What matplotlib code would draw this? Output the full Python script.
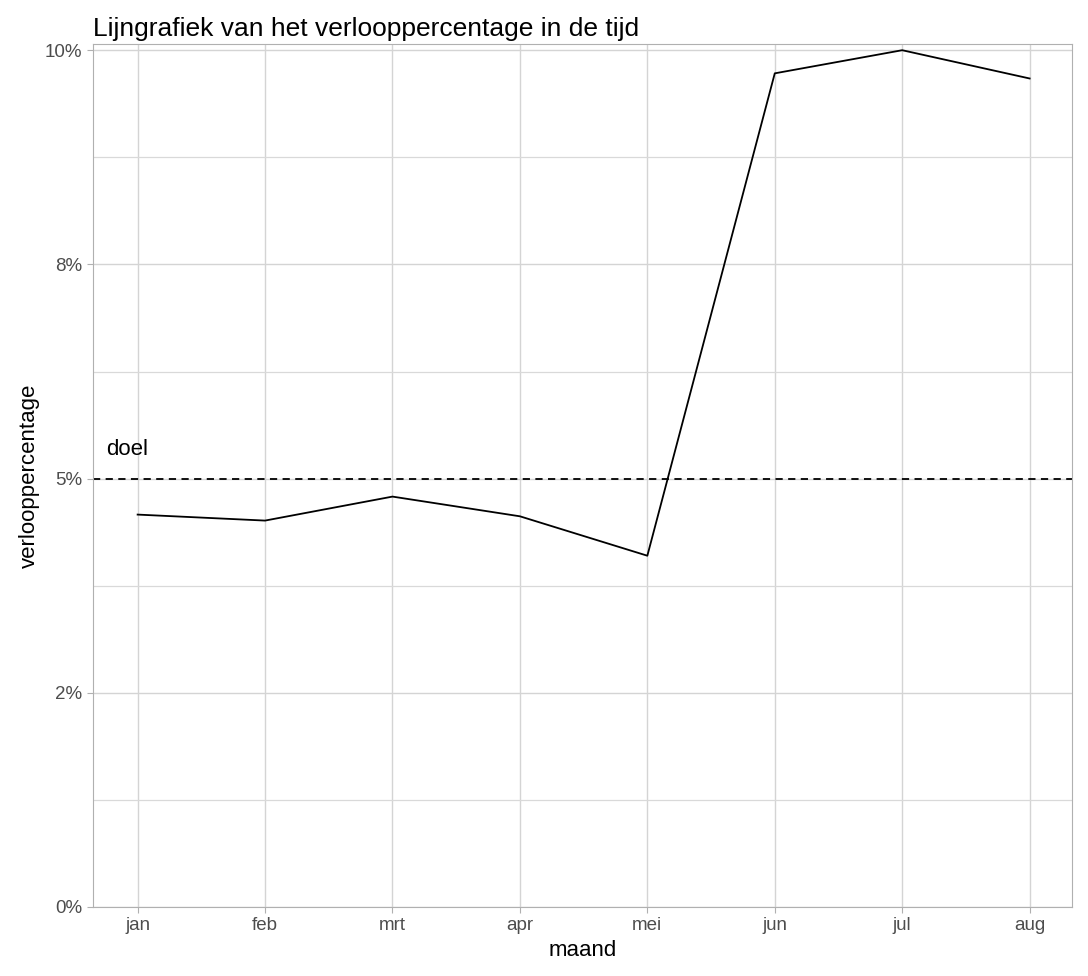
import matplotlib.pyplot as plt

plt.rcParams['font.family'] = ['Liberation Sans', 'DejaVu Sans']

# data
maanden = ['jan', 'feb', 'mrt', 'apr', 'mei', 'jun', 'jul', 'aug']
verloop = [4.58, 4.51, 4.79, 4.56, 4.10, 9.73, 10.0, 9.67]
doel = 5.0
y_ticks = [0, 2.5, 5, 7.5, 10]
y_labels = ['0%', '2%', '5%', '8%', '10%']

fig = plt.figure(figsize=(10.88, 9.76), dpi=100)
ax = fig.add_axes([0.0855, 0.0707, 0.8995, 0.884])

x = list(range(len(maanden)))
ax.plot(x, verloop, color='black', lw=1.3)
ax.axhline(doel, color='black', ls='--', lw=1.3, dashes=(4, 3))
ax.text(-0.25, doel + 0.22, 'doel', fontsize=16, va='bottom')

ax.set_xlim(-0.35, 7.33)
ax.set_ylim(0, 10.07)
ax.set_xticks(x)
ax.set_xticklabels(maanden)
ax.set_yticks(y_ticks)
ax.set_yticklabels(y_labels)
ax.set_yticks([1.25, 3.75, 6.25, 8.75], minor=True)

ax.grid(True, which='major', color='#d4d4d4', lw=1.0)
ax.grid(True, which='minor', axis='y', color='#d9d9d9', lw=0.9)
ax.set_axisbelow(True)
for s in ax.spines.values():
    s.set_color('#b0b0b0')
ax.tick_params(which='both', length=4, color='#b0b0b0', labelsize=13.5, labelcolor='#4d4d4d')
ax.tick_params(which='minor', length=0)

ax.set_xlabel('maand', fontsize=16)
ax.set_ylabel('verlooppercentage', fontsize=16)
ax.set_title('Lijngrafiek van het verlooppercentage in de tijd', fontsize=19, loc='left', pad=6)

fig.savefig('out.png', dpi=100)
